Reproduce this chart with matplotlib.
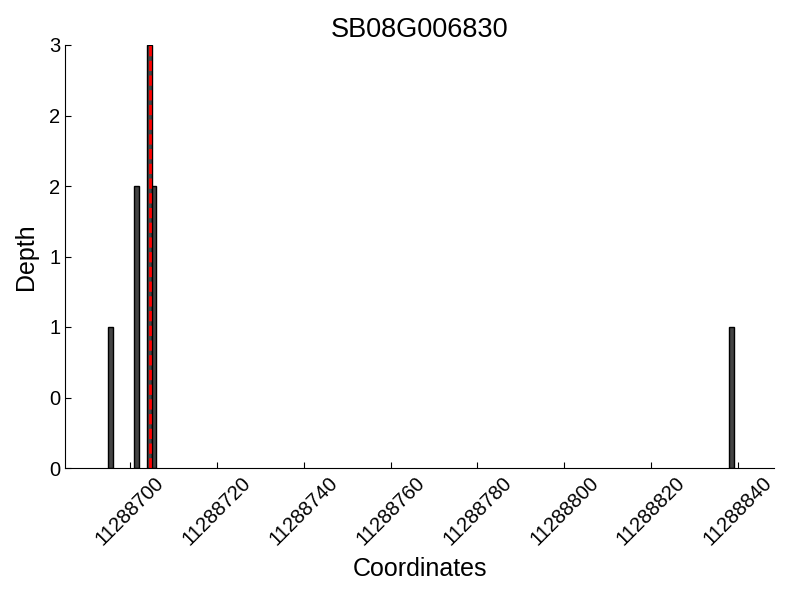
import matplotlib
matplotlib.use("Agg")
import matplotlib.pyplot as plt
from matplotlib.ticker import FormatStrFormatter

plt.rcParams['font.family'] = ['Liberation Sans', 'DejaVu Sans']

coords = [11288695, 11288701, 11288704, 11288705, 11288838]
depth = [1, 2, 3, 2, 1]
marker_pos = 11288704.5
title = "SB08G006830"

fig = plt.figure(figsize=(8, 6), dpi=100)
ax = fig.add_axes([0.08125, 0.22, 0.88625, 0.705])
ax.bar(coords, depth, width=1, align='edge', color='#444444', edgecolor='black', linewidth=1)
ax.axvline(marker_pos, color='red', linestyle='--', linewidth=2)
ax.set_xlim(11288685, 11288848.3)
ax.set_ylim(0, 3)
ax.set_xticks(range(11288700, 11288841, 20))
ax.set_yticks([0, 0.5, 1, 1.5, 2, 2.5, 3])
ax.yaxis.set_major_formatter(FormatStrFormatter('%d'))
ax.xaxis.set_major_formatter(FormatStrFormatter('%d'))
ax.spines['top'].set_visible(False)
ax.spines['right'].set_visible(False)
ax.tick_params(direction='in', labelsize=14.5, length=4.3)
for lbl in ax.get_xticklabels():
    lbl.set_rotation(45)
ax.set_xlabel("Coordinates", fontsize=18, labelpad=6)
ax.set_ylabel("Depth", fontsize=18, labelpad=8)
ax.set_title(title, fontsize=19.5)
fig.savefig("out.png", dpi=100)
